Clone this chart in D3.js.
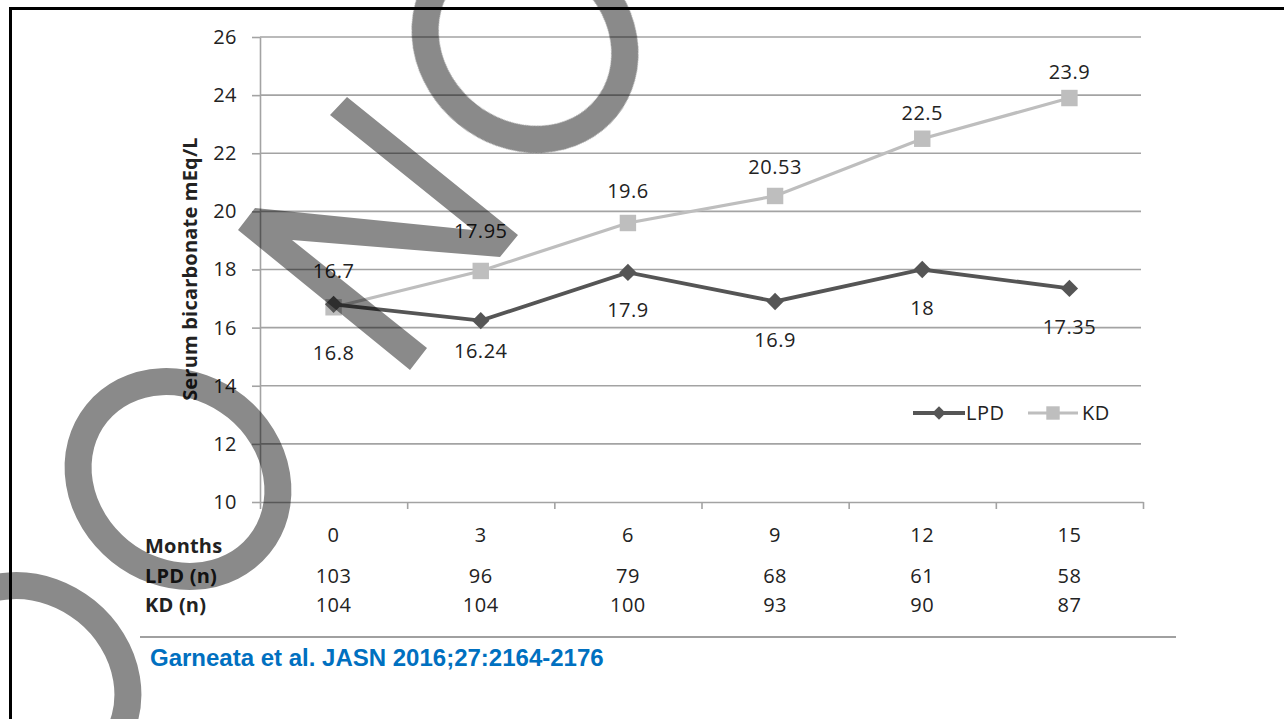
<!DOCTYPE html>
<html>
<head>
<meta charset="utf-8">
<script src="https://d3js.org/d3.v7.min.js"></script>
<style>
  body { margin: 0; background: #fff; }
  svg text { font-family: "Open Sans", sans-serif; fill: #222; letter-spacing: 0.5px; }
</style>
</head>
<body>
<svg width="1284" height="719"></svg>
<script>
// values
var months = ["0", "3", "6", "9", "12", "15"];
var lpd = [16.8, 16.24, 17.9, 16.9, 18, 17.35];
var kd = [16.7, 17.95, 19.6, 20.53, 22.5, 23.9];
var lpdN = [103, 96, 79, 68, 61, 58];
var kdN = [104, 104, 100, 93, 90, 87];
var yTicks = [10, 12, 14, 16, 18, 20, 22, 24, 26];

// label offsets (px from marker centre), as placed in the original
var lpdLabelDy = [48, 30, 37, 38, 38, 38];
var kdLabelDy = [-36, -40, -32, -29, -26, -26];

var svg = d3.select("svg");

var plotLeft = 260, plotRight = 1143, plotTop = 37, plotBottom = 502;

var y = d3.scaleLinear().domain([10, 26]).range([plotBottom, plotTop]);
var x = d3.scalePoint().domain(months).range([plotLeft, plotRight]).padding(0.5);
var xb = d3.scaleLinear().domain([0, months.length]).range([plotLeft, plotRight]);

// frame
svg.append("rect")
  .attr("x", 10.5).attr("y", 8.5)
  .attr("width", 1400).attr("height", 800)
  .attr("fill", "none").attr("stroke", "#000").attr("stroke-width", 3);

// gridlines
svg.append("g").selectAll("line")
  .data(yTicks.slice(1))
  .enter().append("line")
  .attr("x1", plotLeft).attr("x2", 1141)
  .attr("y1", function (d) { return y(d); })
  .attr("y2", function (d) { return y(d); })
  .attr("stroke", "#a3a3a3").attr("stroke-width", 1.6);

// y axis
var yAxis = svg.append("g")
  .attr("transform", "translate(" + plotLeft + ",0)")
  .call(d3.axisLeft(y).tickValues(yTicks).tickSize(8).tickSizeOuter(0).tickPadding(15));
yAxis.select(".domain").attr("stroke", "#a3a3a3").attr("stroke-width", 1.6);
yAxis.selectAll(".tick line").attr("stroke", "#a3a3a3").attr("stroke-width", 1.6);
yAxis.selectAll(".tick text")
  .style("font-family", "Open Sans").style("font-size", "20px").attr("fill", "#222");

// x axis (category boundaries)
var xAxis = svg.append("g")
  .attr("transform", "translate(0," + plotBottom + ")")
  .call(d3.axisBottom(xb).tickValues(d3.range(months.length + 1)).tickSize(7).tickSizeOuter(0).tickFormat(""));
xAxis.select(".domain").attr("stroke", "#a3a3a3").attr("stroke-width", 1.6);
xAxis.selectAll(".tick line").attr("stroke", "#a3a3a3").attr("stroke-width", 1.6);

// axis title
svg.append("text")
  .attr("transform", "translate(197,269) rotate(-90)")
  .attr("text-anchor", "middle")
  .style("font-size", "20px").style("font-weight", "bold")
  .style("letter-spacing", "0.2px")
  .text("Serum bicarbonate mEq/L");

var lpdColor = "#555555", kdColor = "#bebebe";

function series(vals, color, width, symbol, size, rot) {
  var line = d3.line()
    .x(function (d, i) { return x(months[i]); })
    .y(function (d) { return y(d); });
  svg.append("path").datum(vals)
    .attr("d", line)
    .attr("fill", "none").attr("stroke", color).attr("stroke-width", width);
  svg.append("g").selectAll("path")
    .data(vals)
    .enter().append("path")
    .attr("d", d3.symbol().type(symbol).size(size))
    .attr("transform", function (d, i) {
      return "translate(" + x(months[i]) + "," + y(d) + ") rotate(" + rot + ")";
    })
    .attr("fill", color);
}

series(kd, kdColor, 3.2, d3.symbolSquare, 270, 0);
series(lpd, lpdColor, 3.8, d3.symbolSquare, 150, 45);

// data labels
function labels(vals, dys) {
  svg.append("g").selectAll("text")
    .data(vals)
    .enter().append("text")
    .attr("x", function (d, i) { return x(months[i]); })
    .attr("y", function (d, i) { return y(d) + dys[i]; })
    .attr("dy", "0.36em")
    .attr("text-anchor", "middle")
    .style("font-size", "20px")
    .text(function (d) { return d; });
}
labels(kd, kdLabelDy);
labels(lpd, lpdLabelDy);

// legend
var lg = svg.append("g").attr("transform", "translate(0,413)");
lg.append("line").attr("x1", 913).attr("x2", 965).attr("stroke", lpdColor).attr("stroke-width", 3.8);
lg.append("path").attr("d", d3.symbol().type(d3.symbolSquare).size(90))
  .attr("transform", "translate(939,0) rotate(45)").attr("fill", lpdColor);
lg.append("text").attr("x", 966).attr("dy", "0.36em").style("font-size", "20px").text("LPD");
lg.append("line").attr("x1", 1028).attr("x2", 1078).attr("stroke", kdColor).attr("stroke-width", 3.2);
lg.append("path").attr("d", d3.symbol().type(d3.symbolSquare).size(180))
  .attr("transform", "translate(1053,0)").attr("fill", kdColor);
lg.append("text").attr("x", 1082).attr("dy", "0.36em").style("font-size", "20px").text("KD");

// table under the axis
var rows = [
  { name: "Months", vals: months, base: 542, nameBase: 553 },
  { name: "LPD (n)", vals: lpdN, base: 583, nameBase: 583 },
  { name: "KD (n)", vals: kdN, base: 612, nameBase: 612 }
];
rows.forEach(function (r) {
  svg.append("text")
    .attr("x", 145).attr("y", r.nameBase)
    .style("font-size", "20px").style("font-weight", "bold")
    .style("letter-spacing", "0.2px")
    .text(r.name);
  svg.append("g").selectAll("text")
    .data(r.vals)
    .enter().append("text")
    .attr("x", function (d, i) { return x(months[i]); })
    .attr("y", r.base)
    .attr("text-anchor", "middle")
    .style("font-size", "20px")
    .text(function (d) { return d; });
});

svg.append("line")
  .attr("x1", 140).attr("x2", 1176).attr("y1", 637).attr("y2", 637)
  .attr("stroke", "#a0a0a0").attr("stroke-width", 2);

svg.append("text")
  .attr("x", 150).attr("y", 666)
  .style("font-family", "Liberation Sans, Arial, sans-serif")
  .style("font-size", "24px").style("font-weight", "bold")
  .style("letter-spacing", "0px")
  .style("fill", "#0070c0")
  .text("Garneata et al. JASN 2016;27:2164-2176");

// "NO" watermark over the slide
var wm = svg.append("g").attr("fill", "#000").attr("opacity", 0.46);
wm.append("polygon")
  .attr("points", "330,115 347,97 518,235 500,257 292,240 427,348 410,370 238,230 255,208 473,230");
[[525, 42], [178, 479], [28, 683]].forEach(function (c) {
  wm.append("ellipse")
    .attr("transform", "translate(" + c[0] + "," + c[1] + ") rotate(39)")
    .attr("rx", 104.5).attr("ry", 92.5)
    .attr("fill", "none").attr("stroke", "#000").attr("stroke-width", 27);
});
</script>
</body>
</html>
